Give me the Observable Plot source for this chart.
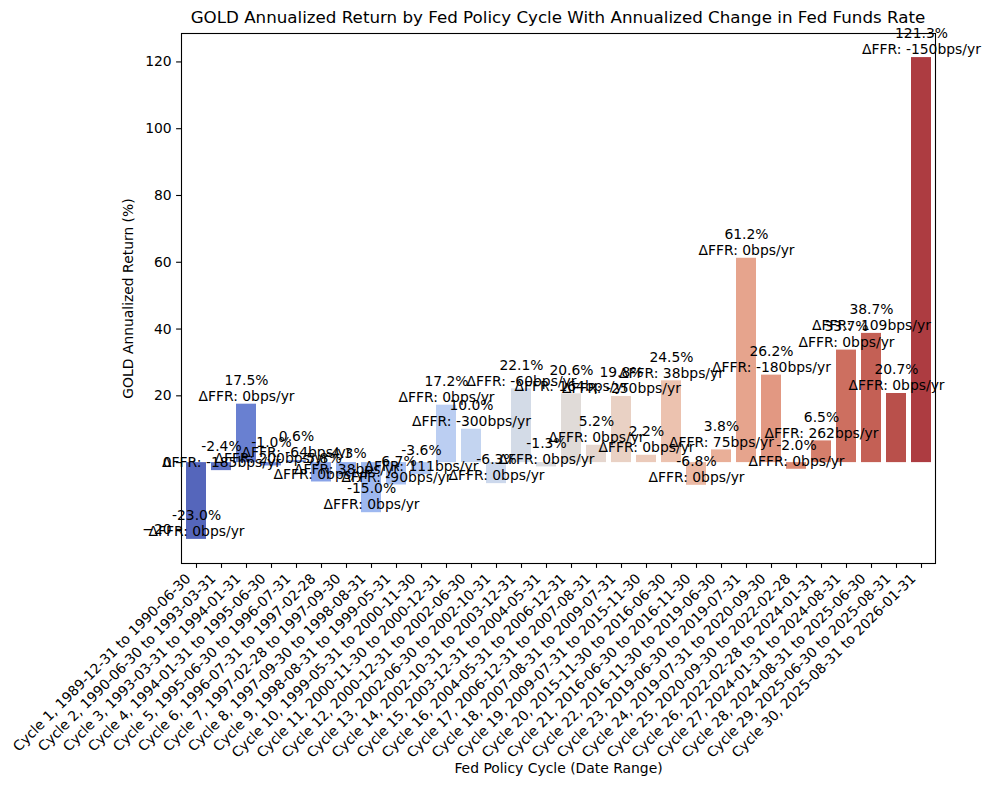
<!DOCTYPE html>
<html><head><meta charset="utf-8">
<script src="https://cdn.jsdelivr.net/npm/d3@7"></script>
<script src="https://cdn.jsdelivr.net/npm/@observablehq/plot@0.6"></script>
<style>
body{margin:0;background:#fff;font-family:"DejaVu Sans",sans-serif;}
#title{height:20px;padding-top:7px;line-height:20px;text-align:center;font-size:16.7px;margin-left:181px;width:754px;white-space:nowrap;color:#000;}
</style></head><body>
<div id="title">GOLD Annualized Return by Fed Policy Cycle With Annualized Change in Fed Funds Rate</div>
<div id="chart"></div>
<script>
const cycleStart = ["1989-12-31","1990-06-30","1993-03-31","1994-01-31","1995-06-30","1996-07-31","1997-02-28","1997-09-30","1998-08-31","1999-05-31","2000-11-30","2000-12-31","2002-06-30","2002-10-31","2003-12-31","2004-05-31","2006-12-31","2007-08-31","2009-07-31","2015-11-30","2016-06-30","2016-11-30","2019-06-30","2019-07-31","2020-09-30","2022-02-28","2024-01-31","2024-08-31","2025-06-30","2025-08-31"];
const cycleEnd = ["1990-06-30","1993-03-31","1994-01-31","1995-06-30","1996-07-31","1997-02-28","1997-09-30","1998-08-31","1999-05-31","2000-11-30","2000-12-31","2002-06-30","2002-10-31","2003-12-31","2004-05-31","2006-12-31","2007-08-31","2009-07-31","2015-11-30","2016-06-30","2016-11-30","2019-06-30","2019-07-31","2020-09-30","2022-02-28","2024-01-31","2024-08-31","2025-06-30","2025-08-31","2026-01-31"];
const goldReturn = [-23.0,-2.4,17.5,-1.0,0.6,-5.8,-4.3,-15.0,-6.7,-3.6,17.2,10.0,-6.3,22.1,-1.3,20.6,5.2,19.8,2.2,24.5,-6.8,3.8,61.2,26.2,-2.0,6.5,33.7,38.7,20.7,121.3];
const ffrChange = [0,-185,0,200,-64,0,38,0,-90,111,0,-300,0,-60,0,164,0,-250,0,38,0,75,0,-180,0,262,0,-109,0,-150];
const yTicks = [-20,0,20,40,60,80,100,120];

const cycles = cycleStart.map((s,i) => `Cycle ${i+1}, ${s} to ${cycleEnd[i]}`);
const data = cycles.map((c,i) => ({cycle:c, ret:goldReturn[i], ffr:ffrChange[i]}));

// matplotlib coolwarm, desaturated like seaborn (saturation .75)
const cw = [[59,76,192],[68,90,204],[77,104,215],[87,117,225],[98,130,234],[108,142,241],[119,154,247],[130,165,251],[141,176,254],[152,185,255],[163,194,255],[174,201,253],[184,208,249],[194,213,244],[204,217,238],[213,219,230],[221,221,221],[229,216,209],[236,211,197],[241,204,185],[245,196,173],[247,187,160],[247,177,148],[247,166,135],[244,154,123],[241,141,111],[236,127,99],[229,112,88],[222,96,77],[213,80,66],[203,62,56],[192,40,47],[180,4,38]];
function coolwarm(t){
  const p = t*(cw.length-1); const i = Math.min(Math.floor(p), cw.length-2); const f = p-i;
  const a = cw[i], b = cw[i+1];
  return d3.rgb(a[0]+(b[0]-a[0])*f, a[1]+(b[1]-a[1])*f, a[2]+(b[2]-a[2])*f);
}
const n = cycles.length;
const colors = cycles.map((c,i) => { const h = d3.hsl(coolwarm((i+1)/(n+1))); h.s *= 0.75; return h.formatHex(); });

const chart = Plot.plot({
  width: 990, height: 763,
  marginTop: 6, marginBottom: 227, marginLeft: 181, marginRight: 55,
  style: {fontSize: "13.9px", fontFamily: "DejaVu Sans", background: "#fff", color: "#000", overflow: "visible"},
  x: {type: "band", domain: cycles, paddingInner: 0.2, paddingOuter: 0.1, axis: null},
  y: {domain: [-30.215, 128.515], axis: null},
  color: {type: "ordinal", domain: cycles, range: colors},
  marks: [
    Plot.barY(data, {x: "cycle", y: "ret", fill: "cycle"}),
    Plot.frame({stroke: "#000", strokeWidth: 1.1}),
    Plot.axisY({ticks: yTicks, tickSize: 4.9, tickPadding: 4.9, label: null, strokeWidth: 1.1}),
    Plot.axisX({tickSize: 4.9, tickFormat: () => "", label: null, strokeWidth: 1.1}),
    Plot.text(data, {x: "cycle", frameAnchor: "bottom", text: "cycle", rotate: -45, textAnchor: "end", lineAnchor: "bottom", dx: -5, dy: 16}),
    Plot.text(data, {x: "cycle", y: "ret", text: d => `${d.ret.toFixed(1)}%\nΔFFR: ${d.ffr}bps/yr`, lineAnchor: "bottom", lineHeight: 1.15, dy: -3.3}),
    Plot.text(["GOLD Annualized Return (%)"], {frameAnchor: "left", dx: -53, rotate: -90, textAnchor: "middle"}),
    Plot.text(["Fed Policy Cycle (Date Range)"], {frameAnchor: "bottom", dy: 209})
  ]
});
document.getElementById("chart").appendChild(chart);
</script></body></html>
